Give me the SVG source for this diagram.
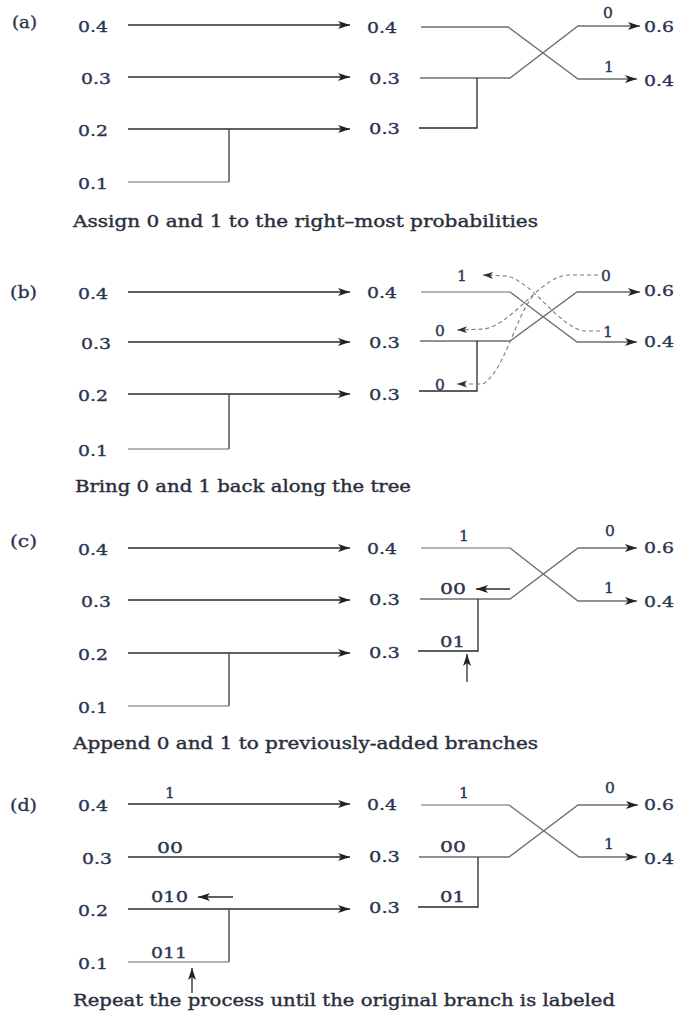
<svg xmlns="http://www.w3.org/2000/svg" width="678" height="1016" viewBox="0 0 678 1016">
<style>
text{font-family:"DejaVu Serif","Liberation Serif",serif;fill:#2b3550;stroke:#2b3550;stroke-width:0.35}
.num{font-size:15.5px}
.bit{font-size:15.5px}
.tag{font-size:17px}
.cap{font-size:17px;fill:#2a2e3c;stroke:#2a2e3c;stroke-width:0.4}
.ln{stroke:#2a2a2a;stroke-width:1.3;fill:none}
.gr{stroke:#6e6e6e;stroke-width:1.3;fill:none}
.lt{stroke:#9a9a9a;stroke-width:1.3;fill:none}
.vt{stroke:#555;stroke-width:1.5;fill:none}
.dash{stroke:#7a7a7a;stroke-width:1.1;fill:none;stroke-dasharray:4 3}
</style>
<defs>
<marker id="ah" markerWidth="14" markerHeight="10" refX="12" refY="5" orient="auto" markerUnits="userSpaceOnUse"><path d="M0,1 L12,5 L0,9 L3,5 z" fill="#222"/></marker>
<marker id="ahs" markerWidth="12" markerHeight="9" refX="10" refY="4.5" orient="auto" markerUnits="userSpaceOnUse"><path d="M0,1 L10,4.5 L0,8 L2.5,4.5 z" fill="#333"/></marker>
</defs>

<!-- Panel (a) -->
<g id="a-nodes">
<g id="a-tag"><text class="tag" x="12" y="28" textLength="25" lengthAdjust="spacingAndGlyphs">(a)</text></g>
<g id="a-L04"><text class="num" x="78" y="32" textLength="30" lengthAdjust="spacingAndGlyphs">0.4</text></g>
<g id="a-L03"><text class="num" x="81" y="84" textLength="30" lengthAdjust="spacingAndGlyphs">0.3</text></g>
<g id="a-L02"><text class="num" x="78" y="136" textLength="30" lengthAdjust="spacingAndGlyphs">0.2</text></g>
<g id="a-L01"><text class="num" x="78" y="189" textLength="30" lengthAdjust="spacingAndGlyphs">0.1</text></g>
<g id="a-M04"><text class="num" x="367" y="33" textLength="30" lengthAdjust="spacingAndGlyphs">0.4</text></g>
<g id="a-M03a"><text class="num" x="369" y="84" textLength="31" lengthAdjust="spacingAndGlyphs">0.3</text></g>
<g id="a-M03b"><text class="num" x="369" y="134" textLength="31" lengthAdjust="spacingAndGlyphs">0.3</text></g>
<g id="a-R06"><text class="num" x="644" y="32" textLength="30" lengthAdjust="spacingAndGlyphs">0.6</text></g>
<g id="a-R04"><text class="num" x="644" y="86" textLength="30" lengthAdjust="spacingAndGlyphs">0.4</text></g>
<g id="a-bits"><text class="bit" x="603" y="18">0</text><text class="bit" x="604" y="72">1</text></g>
<g id="a-cap"><text class="cap" x="73" y="227" textLength="465" lengthAdjust="spacingAndGlyphs">Assign 0 and 1 to the right–most probabilities</text></g>
</g>

<!-- Panel (b) -->
<g id="b-nodes">
<g id="b-tag"><text class="tag" x="10" y="298" textLength="27" lengthAdjust="spacingAndGlyphs">(b)</text></g>
<g id="b-L04"><text class="num" x="78" y="299" textLength="30" lengthAdjust="spacingAndGlyphs">0.4</text></g>
<g id="b-L03"><text class="num" x="81" y="349" textLength="30" lengthAdjust="spacingAndGlyphs">0.3</text></g>
<g id="b-L02"><text class="num" x="78" y="401" textLength="30" lengthAdjust="spacingAndGlyphs">0.2</text></g>
<g id="b-L01"><text class="num" x="78" y="456" textLength="30" lengthAdjust="spacingAndGlyphs">0.1</text></g>
<g id="b-M04"><text class="num" x="367" y="298" textLength="30" lengthAdjust="spacingAndGlyphs">0.4</text></g>
<g id="b-M03a"><text class="num" x="369" y="348" textLength="31" lengthAdjust="spacingAndGlyphs">0.3</text></g>
<g id="b-M03b"><text class="num" x="369" y="400" textLength="31" lengthAdjust="spacingAndGlyphs">0.3</text></g>
<g id="b-R06"><text class="num" x="644" y="296" textLength="30" lengthAdjust="spacingAndGlyphs">0.6</text></g>
<g id="b-R04"><text class="num" x="644" y="347" textLength="30" lengthAdjust="spacingAndGlyphs">0.4</text></g>
<g id="b-bits">
<text class="bit" x="457" y="281">1</text>
<text class="bit" x="601" y="281">0</text>
<text class="bit" x="435" y="336">0</text>
<text class="bit" x="603" y="337">1</text>
<text class="bit" x="435" y="390">0</text>
</g>
<g id="b-cap"><text class="cap" x="75" y="492" textLength="336" lengthAdjust="spacingAndGlyphs">Bring 0 and 1 back along the tree</text></g>
</g>

<!-- Panel (c) -->
<g id="c-nodes">
<g id="c-tag"><text class="tag" x="10" y="547" textLength="27" lengthAdjust="spacingAndGlyphs">(c)</text></g>
<g id="c-L04"><text class="num" x="78" y="555" textLength="30" lengthAdjust="spacingAndGlyphs">0.4</text></g>
<g id="c-L03"><text class="num" x="81" y="607" textLength="30" lengthAdjust="spacingAndGlyphs">0.3</text></g>
<g id="c-L02"><text class="num" x="78" y="660" textLength="30" lengthAdjust="spacingAndGlyphs">0.2</text></g>
<g id="c-L01"><text class="num" x="78" y="713" textLength="30" lengthAdjust="spacingAndGlyphs">0.1</text></g>
<g id="c-M04"><text class="num" x="367" y="554" textLength="30" lengthAdjust="spacingAndGlyphs">0.4</text></g>
<g id="c-M03a"><text class="num" x="369" y="605" textLength="31" lengthAdjust="spacingAndGlyphs">0.3</text></g>
<g id="c-M03b"><text class="num" x="369" y="658" textLength="31" lengthAdjust="spacingAndGlyphs">0.3</text></g>
<g id="c-R06"><text class="num" x="644" y="553" textLength="30" lengthAdjust="spacingAndGlyphs">0.6</text></g>
<g id="c-R04"><text class="num" x="644" y="607" textLength="30" lengthAdjust="spacingAndGlyphs">0.4</text></g>
<g id="c-bits">
<text class="bit" x="459" y="541">1</text>
<text class="bit" x="605" y="536">0</text>
<text class="bit" x="440" y="594" textLength="26" lengthAdjust="spacingAndGlyphs">00</text>
<text class="bit" x="604" y="593">1</text>
<text class="bit" x="440" y="647" textLength="25" lengthAdjust="spacingAndGlyphs">01</text>
</g>
<g id="c-cap"><text class="cap" x="73" y="749" textLength="465" lengthAdjust="spacingAndGlyphs">Append 0 and 1 to previously-added branches</text></g>
</g>

<!-- Panel (d) -->
<g id="d-nodes">
<g id="d-tag"><text class="tag" x="10" y="811" textLength="27" lengthAdjust="spacingAndGlyphs">(d)</text></g>
<g id="d-L04"><text class="num" x="78" y="811" textLength="30" lengthAdjust="spacingAndGlyphs">0.4</text></g>
<g id="d-L03"><text class="num" x="82" y="864" textLength="30" lengthAdjust="spacingAndGlyphs">0.3</text></g>
<g id="d-L02"><text class="num" x="78" y="916" textLength="30" lengthAdjust="spacingAndGlyphs">0.2</text></g>
<g id="d-L01"><text class="num" x="78" y="969" textLength="30" lengthAdjust="spacingAndGlyphs">0.1</text></g>
<g id="d-M04"><text class="num" x="367" y="810" textLength="30" lengthAdjust="spacingAndGlyphs">0.4</text></g>
<g id="d-M03a"><text class="num" x="369" y="862" textLength="31" lengthAdjust="spacingAndGlyphs">0.3</text></g>
<g id="d-M03b"><text class="num" x="369" y="913" textLength="31" lengthAdjust="spacingAndGlyphs">0.3</text></g>
<g id="d-R06"><text class="num" x="644" y="810" textLength="30" lengthAdjust="spacingAndGlyphs">0.6</text></g>
<g id="d-R04"><text class="num" x="644" y="864" textLength="30" lengthAdjust="spacingAndGlyphs">0.4</text></g>
<g id="d-bits">
<text class="bit" x="165" y="798">1</text>
<text class="bit" x="157" y="853" textLength="26" lengthAdjust="spacingAndGlyphs">00</text>
<text class="bit" x="151" y="902" textLength="37" lengthAdjust="spacingAndGlyphs">010</text>
<text class="bit" x="151" y="958" textLength="36" lengthAdjust="spacingAndGlyphs">011</text>
<text class="bit" x="459" y="798">1</text>
<text class="bit" x="605" y="793">0</text>
<text class="bit" x="604" y="849">1</text>
<text class="bit" x="440" y="852" textLength="26" lengthAdjust="spacingAndGlyphs">00</text>
<text class="bit" x="440" y="902" textLength="25" lengthAdjust="spacingAndGlyphs">01</text>
</g>
<g id="d-cap"><text class="cap" x="73" y="1006" textLength="542" lengthAdjust="spacingAndGlyphs">Repeat the process until the original branch is labeled</text></g>
</g>

<g id="connectors">
<!-- (a) -->
<path class="ln" d="M128,25 H350" marker-end="url(#ah)"/>
<path class="ln" d="M128,77 H350" marker-end="url(#ah)"/>
<path class="ln" d="M128,129 H350" marker-end="url(#ah)"/>
<path class="lt" d="M128,182 H229"/>
<path class="vt" d="M229,182 V129"/>
<path class="gr" d="M421,27 H508 L578,79 H637" marker-end="url(#ah)"/>
<path class="gr" d="M420,78 H510 L578,26 H640" marker-end="url(#ah)"/>
<path class="ln" d="M419,128 H477 V78"/>
<!-- (b) -->
<path class="ln" d="M128,292 H350" marker-end="url(#ah)"/>
<path class="ln" d="M128,342 H350" marker-end="url(#ah)"/>
<path class="ln" d="M128,394 H350" marker-end="url(#ah)"/>
<path class="lt" d="M128,449 H229"/>
<path class="vt" d="M229,449 V394"/>
<path class="lt" d="M421,292 H510"/>
<path class="gr" d="M510,292 L577,342 H637" marker-end="url(#ah)"/>
<path class="gr" d="M420,341 H510 L577,292 H640" marker-end="url(#ah)"/>
<path class="ln" d="M419,391 H477 V341"/>
<path class="dash" d="M600,331 H585 C560,329 532,280 506,276 L483,275" marker-end="url(#ahs)"/>
<path class="dash" d="M598,275 H568 C540,277 515,322 485,329 L457,330" marker-end="url(#ahs)"/>
<path class="dash" d="M533,296 C515,318 505,370 483,384 L457,384" marker-end="url(#ahs)"/>
<!-- (c) -->
<path class="ln" d="M128,548 H350" marker-end="url(#ah)"/>
<path class="ln" d="M128,600 H350" marker-end="url(#ah)"/>
<path class="ln" d="M128,653 H350" marker-end="url(#ah)"/>
<path class="lt" d="M128,706 H229"/>
<path class="vt" d="M229,706 V653"/>
<path class="lt" d="M421,548 H510"/>
<path class="gr" d="M510,548 L578,601 H637" marker-end="url(#ah)"/>
<path class="gr" d="M420,599 H510 L578,548 H637" marker-end="url(#ah)"/>
<path class="ln" d="M418,651 H478 V599"/>
<path class="ln" d="M510,589 H476" marker-end="url(#ah)"/>
<path class="ln" d="M467,682 V654" marker-end="url(#ah)"/>
<!-- (d) -->
<path class="ln" d="M128,804 H350" marker-end="url(#ah)"/>
<path class="ln" d="M128,857 H350" marker-end="url(#ah)"/>
<path class="ln" d="M128,909 H350" marker-end="url(#ah)"/>
<path class="lt" d="M128,962 H229"/>
<path class="vt" d="M229,962 V909"/>
<path class="ln" d="M233,897 H198" marker-end="url(#ah)"/>
<path class="ln" d="M192,993 V968" marker-end="url(#ah)"/>
<path class="lt" d="M421,805 H509"/>
<path class="gr" d="M509,805 L579,857 H637" marker-end="url(#ah)"/>
<path class="gr" d="M419,857 H509 L578,805 H638" marker-end="url(#ah)"/>
<path class="ln" d="M418,907 H478 V857"/>
</g>
</svg>
